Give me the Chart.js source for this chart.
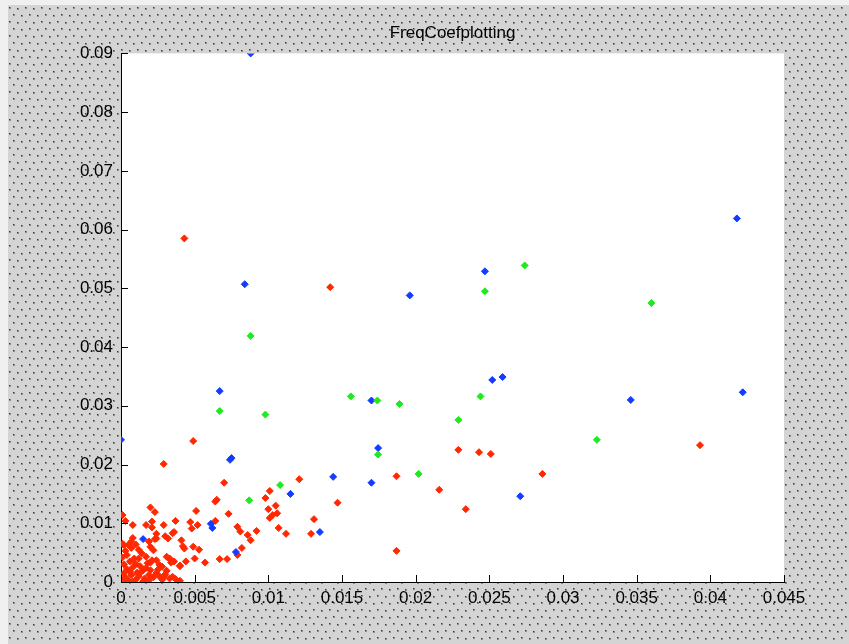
<!DOCTYPE html>
<html>
<head>
  <meta charset="UTF-8" />
  <title>FreqCoefplotting</title>
  <script src="https://cdn.jsdelivr.net/npm/chart.js"></script>
  <style>
    html, body { margin: 0; padding: 0; background: #f0f0f0; }
    #wrap { position: relative; width: 849px; height: 644px; overflow: hidden; }
    #frame { position: absolute; left: 8px; top: 5px; right: 0; bottom: 0; background-color: #d4d4d4; }
    #chart { position: absolute; left: 0; top: 0; }
  </style>
</head>
<body>
  <div id="wrap">
    <div id="frame"></div>
    <canvas id="chart" width="849" height="644"></canvas>
  </div>
  <script>
    // axis ticks and labels
    const xTicks = [0, 0.005, 0.01, 0.015, 0.02, 0.025, 0.03, 0.035, 0.04, 0.045];
    const xTickLabels = ["0", "0.005", "0.01", "0.015", "0.02", "0.025", "0.03", "0.035", "0.04", "0.045"];
    const yTicks = [0, 0.01, 0.02, 0.03, 0.04, 0.05, 0.06, 0.07, 0.08, 0.09];
    const yTickLabels = ["0", "0.01", "0.02", "0.03", "0.04", "0.05", "0.06", "0.07", "0.08", "0.09"];

    // blue points [x, y]
    const bluePoints = [
      [0.0088, 0.0900], [0.0418, 0.0619], [0.0422, 0.0323], [0.0247, 0.0529], [0.0084, 0.0507],
      [0.0196, 0.0488], [0.0259, 0.0349], [0.0252, 0.0344], [0.0067, 0.0325], [0.0170, 0.0309],
      [0.0346, 0.0310], [0.01745, 0.0228], [0.0075, 0.0211], [0.0074, 0.0208], [0.0000, 0.0242],
      [0.0271, 0.0146], [0.0170, 0.0169], [0.0144, 0.0179], [0.0115, 0.0150], [0.0135, 0.0085],
      [0.0061, 0.0099], [0.0062, 0.0092], [0.0078, 0.0051], [0.0015, 0.0073]
    ];

    // green points [x, y]
    const greenPoints = [
      [0.0274, 0.0539], [0.0247, 0.0495], [0.0360, 0.0475], [0.0088, 0.0419], [0.0156, 0.0316],
      [0.0174, 0.0309], [0.0189, 0.0303], [0.0244, 0.0316], [0.0229, 0.0276], [0.0067, 0.0291],
      [0.0098, 0.0285], [0.0323, 0.0242], [0.01745, 0.0217], [0.0202, 0.0184], [0.0108, 0.0165],
      [0.0087, 0.0139]
    ];

    // red points [x, y]
    const redPoints = [
      [0.0043, 0.0585], [0.0142, 0.0502], [0.0393, 0.0233], [0.0229, 0.0225], [0.0243, 0.0221],
      [0.0251, 0.0218], [0.0187, 0.0180], [0.0286, 0.0184], [0.0216, 0.0157], [0.0234, 0.0124],
      [0.0187, 0.0053], [0.0049, 0.0240], [0.0029, 0.0201], [0.0147, 0.0135], [0.0131, 0.0107],
      [0.0121, 0.0175], [0.0070, 0.0169], [0.0065, 0.0140], [0.0064, 0.0137], [0.0051, 0.0121],
      [0.0073, 0.0116], [0.0098, 0.0143], [0.0101, 0.0155], [0.0105, 0.0130], [0.0100, 0.0124],
      [0.0106, 0.0117], [0.0103, 0.0114], [0.0101, 0.0109], [0.0129, 0.0082], [0.0107, 0.0092],
      [0.0112, 0.0082], [0.0079, 0.0094], [0.0081, 0.0086], [0.0086, 0.0080], [0.0088, 0.0071],
      [0.0092, 0.0087], [0.0047, 0.0102], [0.0048, 0.0091], [0.0052, 0.0097], [0.0064, 0.0104],
      [0.0041, 0.0071], [0.0043, 0.0057], [0.0049, 0.0060], [0.0053, 0.0055], [0.0050, 0.0040],
      [0.0082, 0.0058], [0.0079, 0.0046], [0.0067, 0.0039], [0.0057, 0.0033], [0.0044, 0.0035],
      [0.0040, 0.0028], [0.0072, 0.0039], [0.0020, 0.0127], [0.0023, 0.0119], [0.0001, 0.0114],
      [0.0003, 0.0104], [0.0008, 0.0097], [0.0017, 0.0097], [0.0021, 0.0103], [0.0021, 0.0093],
      [0.0029, 0.0097], [0.0037, 0.0104], [0.0036, 0.0085], [0.0024, 0.0082], [0.0024, 0.0074],
      [0.0030, 0.0078], [0.0032, 0.0074], [0.0035, 0.0083], [0.0008, 0.0075], [0.0007, 0.0069],
      [0.0005, 0.0063], [0.0002, 0.0063], [0.0019, 0.0069], [0.0023, 0.0073], [0.0020, 0.0060],
      [0.0022, 0.0054], [0.0042, 0.0061], [0.0033, 0.0040], [0.0036, 0.0035], [0.0024, 0.0037],
      [0.0026, 0.0029], [0.0020, 0.0033], [0.0014, 0.0049], [0.0012, 0.0040], [0.0015, 0.0020],
      [0.0028, 0.0026], [0.0031, 0.0019], [0.0029, 0.0009], [0.0035, 0.0009], [0.0037, 0.0005],
      [0.0040, 0.0002], [0.0040, 0.0027], [0.0031, 0.0043], [0.0033, 0.0039], [0.0034, 0.0033],
      [0.0001, 0.0002], [0.0003, 0.0008], [0.0005, 0.0003], [0.0002, 0.0015], [0.0007, 0.0012],
      [0.0010, 0.0004], [0.0012, 0.0010], [0.0004, 0.0022], [0.0008, 0.0025], [0.0014, 0.0018],
      [0.0016, 0.0006], [0.0019, 0.0012], [0.0002, 0.0030], [0.0006, 0.0035], [0.0010, 0.0031],
      [0.0013, 0.0027], [0.0017, 0.0024], [0.0020, 0.0020], [0.0022, 0.0008], [0.0024, 0.0015],
      [0.0001, 0.0042], [0.0004, 0.0046], [0.0009, 0.0040], [0.0017, 0.0043], [0.0003, 0.0053],
      [0.0012, 0.0055], [0.0007, 0.0058], [0.0018, 0.0032], [0.0021, 0.0037], [0.0026, 0.0010],
      [0.0015, 0.0001], [0.0008, 0.0001], [0.0011, 0.0016], [0.0006, 0.0018], [0.0003, 0.0005],
      [0.0019, 0.0003], [0.0028, 0.0004], [0.0025, 0.0021], [0.0030, 0.0013], [0.0033, 0.0006],
      [0.0001, 0.0065], [0.0010, 0.0064]
    ];

    // dotted grey frame like the matlab figure window (staggered dots)
    const tile = document.createElement("canvas");
    tile.width = 16;
    tile.height = 14;
    const tctx = tile.getContext("2d");
    tctx.fillStyle = "#d4d4d4";
    tctx.fillRect(0, 0, 16, 14);
    [[1, 2], [9, 3], [5, 9], [13, 10]].forEach((d) => {
      tctx.fillStyle = "#8a8a8a";
      tctx.fillRect(d[0], d[1], 2, 2);
      tctx.fillStyle = "#333";
      tctx.fillRect(d[0], d[1], 1, 1);
    });
    document.getElementById("frame").style.backgroundImage = "url(" + tile.toDataURL() + ")";

    const toXY = (pts) => pts.map((p) => ({ x: p[0], y: p[1] }));

    const whiteArea = {
      id: "whiteArea",
      beforeDraw(chart) {
        const a = chart.chartArea;
        const ctx = chart.ctx;
        ctx.save();
        ctx.fillStyle = "#fff";
        ctx.fillRect(a.left, a.top, a.right - a.left, a.bottom - a.top);
        ctx.restore();
      },
    };

    // tick marks pointing into the plot
    const innerTicks = {
      id: "innerTicks",
      afterDraw(chart) {
        const ctx = chart.ctx;
        const a = chart.chartArea;
        const xs = chart.scales.x;
        const ys = chart.scales.y;
        ctx.save();
        ctx.strokeStyle = "#000";
        ctx.lineWidth = 1;
        ctx.beginPath();
        xTicks.forEach((v) => {
          const px = Math.round(xs.getPixelForValue(v)) + 0.5;
          ctx.moveTo(px, a.bottom);
          ctx.lineTo(px, a.bottom - 7);
        });
        yTicks.forEach((v) => {
          const py = Math.round(ys.getPixelForValue(v)) + 0.5;
          ctx.moveTo(a.left, py);
          ctx.lineTo(a.left + 7, py);
        });
        ctx.stroke();
        ctx.restore();
      },
    };

    const tickFont = { family: "'Liberation Sans', Arial, sans-serif", size: 17 };

    new Chart(document.getElementById("chart"), {
      type: "scatter",
      data: {
        datasets: [
          {
            label: "red",
            data: toXY(redPoints),
            backgroundColor: "rgb(255,40,0)",
            borderColor: "rgb(255,40,0)",
            order: 3,
          },
          {
            label: "blue",
            data: toXY(bluePoints),
            backgroundColor: "rgb(20,60,255)",
            borderColor: "rgb(20,60,255)",
            order: 2,
          },
          {
            label: "green",
            data: toXY(greenPoints),
            backgroundColor: "rgb(30,235,30)",
            borderColor: "rgb(30,235,30)",
            order: 1,
          },
        ],
      },
      options: {
        responsive: false,
        animation: false,
        events: [],
        layout: { padding: { top: 23, right: 65, bottom: 0, left: 0 } },
        elements: {
          point: { pointStyle: "rectRot", radius: 3.5, borderWidth: 1 },
        },
        plugins: {
          legend: { display: false },
          tooltip: { enabled: false },
          title: {
            display: true,
            text: "FreqCoefplotting",
            fullSize: false,
            color: "#000",
            font: { family: "'Liberation Sans', Arial, sans-serif", size: 17, weight: "normal" },
            padding: { top: 0, bottom: 10 },
          },
        },
        scales: {
          x: {
            type: "linear",
            min: 0,
            max: 0.045,
            grid: { display: false, drawTicks: false },
            border: { display: true, color: "#000", width: 1 },
            afterBuildTicks: (scale) => { scale.ticks = xTicks.map((v) => ({ value: v })); },
            afterFit: (scale) => { scale.height = 62; },
            ticks: {
              color: "#000",
              font: tickFont,
              padding: 6,
              maxRotation: 0,
              autoSkip: false,
              callback: (value, index) => xTickLabels[index],
            },
          },
          y: {
            type: "linear",
            min: 0,
            max: 0.09,
            grid: { display: false, drawTicks: false },
            border: { display: true, color: "#000", width: 1 },
            afterBuildTicks: (scale) => { scale.ticks = yTicks.map((v) => ({ value: v })); },
            afterFit: (scale) => { scale.width = 121; },
            ticks: {
              color: "#000",
              font: tickFont,
              padding: 8,
              autoSkip: false,
              callback: (value, index) => yTickLabels[index],
            },
          },
        },
      },
      plugins: [whiteArea, innerTicks],
    });
  </script>
</body>
</html>
